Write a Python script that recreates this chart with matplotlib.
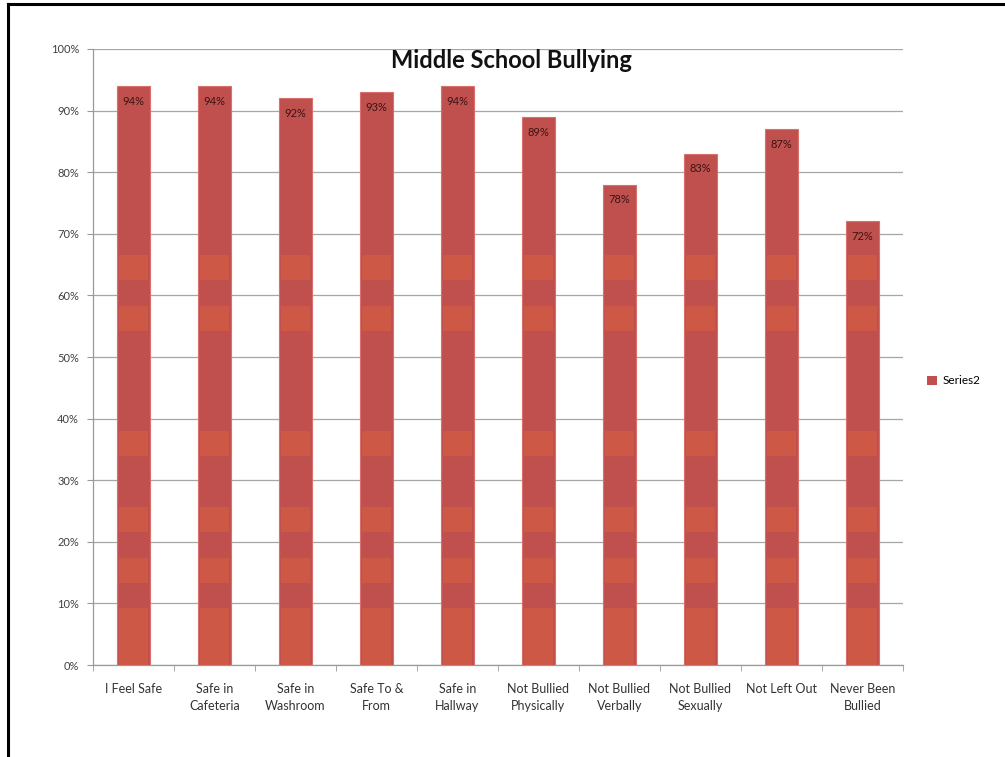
import matplotlib
matplotlib.use("Agg")
import matplotlib.pyplot as plt
from matplotlib.lines import Line2D
from matplotlib.patches import Patch
import numpy as np

plt.rcParams['font.family'] = ['Lato', 'DejaVu Sans']

categories = ["I Feel Safe", "Safe in\nCafeteria", "Safe in\nWashroom", "Safe To &\nFrom",
              "Safe in\nHallway", "Not Bullied\nPhysically", "Not Bullied\nVerbally",
              "Not Bullied\nSexually", "Not Left Out", "Never Been\nBullied"]
values = [94, 94, 92, 93, 94, 89, 78, 83, 87, 72]
series_name = "Series2"

# lighter horizontal bands seen in the bars (style only)
bands = [(0, 9.3), (13.3, 17.4), (21.6, 25.6), (33.9, 38.0), (54.2, 58.3), (62.5, 66.6)]

fig = plt.figure(figsize=(10.05, 7.57), dpi=100)
ax = fig.add_axes([0.0925, 0.1215, 0.806, 0.8138])

x = np.arange(len(categories))
ax.bar(x, values, width=0.4, color='#C0504D', edgecolor='#D8706B', linewidth=0.8, zorder=3)
for lo, hi in bands:
    h = [max(0, min(hi, v) - lo) for v in values]
    ax.bar(x, h, bottom=lo, width=0.36, color='#CD5846', linewidth=0, zorder=4)

for xi, v in zip(x, values):
    ax.annotate(f"{v}%", (xi, v), xytext=(0, -11), textcoords='offset points',
                ha='center', va='center', fontsize=8, color='#3a1414', zorder=5)

ax.set_xlim(-0.5, len(categories) - 0.5)
ax.set_ylim(0, 100)
ax.set_yticks(range(0, 101, 10))
ax.set_yticklabels([f"{t}%" for t in range(0, 101, 10)], fontsize=8, color='#404040')
ax.set_xticks(x)
ax.set_xticklabels(categories, fontsize=9, color='#333333', linespacing=1.45)
ax.set_xticks(np.arange(-0.5, len(categories)), minor=True)
ax.tick_params(axis='x', which='major', length=0, pad=13)
ax.tick_params(axis='x', which='minor', length=4, color='#999999', direction='out')
ax.tick_params(axis='y', length=4, color='#999999', pad=6)

ax.grid(axis='y', color='#A6A6A6', linewidth=0.9, zorder=0)
for s in ['top', 'right']:
    ax.spines[s].set_visible(False)
for s in ['left', 'bottom']:
    ax.spines[s].set_color('#999999')
    ax.spines[s].set_linewidth(0.9)

ax.text(0.517, 0.981, "Middle School Bullying", transform=ax.transAxes, ha='center', va='center',
        fontsize=17, fontweight='bold', color='#111111', zorder=6)

handle = Patch(facecolor='#C0504D', edgecolor='none')
fig.legend([handle], [series_name], loc='center left', bbox_to_anchor=(0.912, 0.497),
           frameon=False, fontsize=8.5, handlelength=0.8, handleheight=0.8, handletextpad=0.5)

# outer frame
fig.add_artist(Line2D([7.5 / 1005, 7.5 / 1005], [0, 1 - 3.5 / 757], color='black', linewidth=2.2,
                      transform=fig.transFigure))
fig.add_artist(Line2D([7.5 / 1005, 1], [1 - 3.5 / 757, 1 - 3.5 / 757], color='black', linewidth=2.2,
                      transform=fig.transFigure))

fig.savefig("out.png", dpi=100)
